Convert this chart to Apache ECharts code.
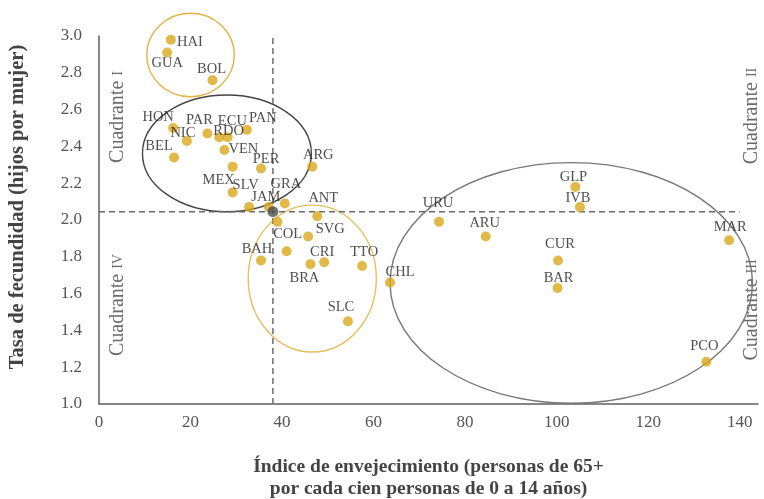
<!DOCTYPE html>
<html><head><meta charset="utf-8">
<script src="https://cdn.jsdelivr.net/npm/echarts/dist/echarts.min.js"></script>
<style>html,body{margin:0;padding:0;background:#fff}#c{width:764px;height:499px}</style>
</head><body><div id="c"></div>
<script>
// ---- data ----
const countries = ['HAI','GUA','BOL','HON','NIC','PAR','ECU','RDO','PAN','BEL','VEN','MEX','PER','ARG','SLV','','JAM','GRA','ANT','','SVG','COL','BAH','BRA','CRI','TTO','CHL','SLC','GLP','IVB','URU','ARU','CUR','BAR','MAR','PCO'];
const agingIndex = [15.7,14.9,24.8,16.2,19.2,23.7,26.3,28.1,32.3,16.4,27.4,29.2,35.4,46.6,29.2,32.8,37.1,40.6,47.7,39.0,45.7,41.0,35.4,46.2,49.2,57.5,63.6,54.4,104.1,105.1,74.3,84.5,100.3,100.2,137.7,132.7];
const fertility  = [2.98,2.91,2.76,2.50,2.43,2.47,2.45,2.45,2.49,2.34,2.38,2.29,2.28,2.29,2.15,2.07,2.07,2.09,2.02,1.99,1.91,1.83,1.78,1.76,1.77,1.75,1.66,1.45,2.18,2.07,1.99,1.91,1.78,1.63,1.89,1.23];
const meanPoint = [38, 2.045];
const xTicks = [0, 20, 40, 60, 80, 100, 120, 140];
const yTicks = [1.0, 1.2, 1.4, 1.6, 1.8, 2.0, 2.2, 2.4, 2.6, 2.8, 3.0];
// group ellipses (data units)
const groupCenterX = [20, 27.95, 46.6, 103.2];
const groupCenterY = [2.897, 2.362, 1.682, 1.658];
const groupRadiusX = [9.57, 18.45, 14.0, 39.6];
const groupRadiusY = [0.227, 0.317, 0.399, 0.654];

// ---- styling (not data) ----
const labelOffsets = [[19,3],[0,11],[-1,-11],[-15,-11],[-4,-8],[-8,-13],[13,-16],[1,-6],[16,-12],[-15,-11],[19,-1],[-14,14],[5,-9],[6,-11],[13,-7],[0,0],[-3,-10],[1,-19],[6,-18],[0,0],[22,-7],[1,-17],[-4,-11],[-6,14],[-2,-10],[2,-14],[10,-10],[-7,-14],[-2,-10],[-2,-9],[-1,-19],[-1,-13],[2,-16],[1,-10],[1,-13],[-2,-15]];
const groupColors = ['#E2B445','#444444','#E6BE60','#777777'];
const SERIF = '"Liberation Serif", "DejaVu Serif", serif';
const GOLD = '#D8A71C';

const chart = echarts.init(document.getElementById('c'));

const pointData = countries.map((n, i) => ({
  name: n,
  value: [agingIndex[i], fertility[i]],
  label: { offset: labelOffsets[i] }
}));
const ellipseData = groupCenterX.map((cx, i) => [cx, groupCenterY[i], groupRadiusX[i], groupRadiusY[i]]);

const quad = (txt, num, x, y) => ({
  type: 'text', x: x, y: y, rotation: Math.PI / 2, silent: true,
  style: {
    text: '{a|' + txt + ' }{b|' + num + '}',
    align: 'center', verticalAlign: 'middle',
    rich: {
      a: { fontFamily: SERIF, fontSize: 20, fill: '#6b6b6b' },
      b: { fontFamily: SERIF, fontSize: 14, fill: '#6b6b6b' }
    }
  }
});

chart.setOption({
  animation: false,
  backgroundColor: '#fff',
  grid: { left: 99, right: 6, top: 36, bottom: 95, containLabel: false, outerBoundsMode: 'none' },
  xAxis: {
    type: 'value', min: xTicks[0], max: 144, interval: 20,
    name: 'Índice de envejecimiento (personas de 65+\npor cada cien personas de 0 a 14 años)',
    nameLocation: 'middle', nameGap: 52,
    nameTextStyle: { fontFamily: SERIF, fontSize: 19.5, fontWeight: 'bold', color: '#444', lineHeight: 22 },
    axisLine: { show: true, lineStyle: { color: '#5f5f5f', width: 1.5 } },
    axisTick: { show: false },
    splitLine: { show: false },
    axisLabel: { showMaxLabel: false, fontFamily: SERIF, fontSize: 17, color: '#555', margin: 10,
      formatter: v => xTicks.includes(v) ? String(v) : '' }
  },
  yAxis: {
    type: 'value', min: yTicks[0], max: yTicks[yTicks.length - 1], interval: 0.2,
    name: 'Tasa de fecundidad (hijos por mujer)',
    nameLocation: 'middle', nameGap: 71,
    nameTextStyle: { fontFamily: SERIF, fontSize: 20.5, fontWeight: 'bold', color: '#444', padding: [0, 0, 0, 26] },
    axisLine: { show: true, lineStyle: { color: '#5f5f5f', width: 1.5 } },
    axisTick: { show: false },
    splitLine: { show: false },
    axisLabel: { fontFamily: SERIF, fontSize: 17, color: '#555', margin: 17, formatter: v => v.toFixed(1) }
  },
  series: [
    {
      type: 'custom', clip: false, silent: true, z: 1,
      data: ellipseData,
      renderItem: (params, api) => {
        const c = api.coord([api.value(0), api.value(1)]);
        const s = api.size([api.value(2), api.value(3)]);
        return { type: 'ellipse', shape: { cx: c[0], cy: c[1], rx: s[0], ry: s[1] },
          style: { fill: 'none', stroke: groupColors[params.dataIndex], lineWidth: 1.4 } };
      }
    },
    {
      type: 'line', symbol: 'none', silent: true, z: 2,
      data: [[meanPoint[0], yTicks[0]], [meanPoint[0], yTicks[yTicks.length - 1]]],
      lineStyle: { type: [6, 4], color: '#6a6a6a', width: 1.5 }
    },
    {
      type: 'line', symbol: 'none', silent: true, z: 2,
      data: [[xTicks[0], meanPoint[1]], [xTicks[xTicks.length - 1], meanPoint[1]]],
      lineStyle: { type: [6, 4], color: '#6a6a6a', width: 1.5 }
    },
    {
      type: 'scatter', z: 3, symbolSize: 10,
      itemStyle: { color: GOLD },
      data: pointData,
      label: { show: true, position: 'inside', formatter: p => p.name,
        fontFamily: SERIF, fontSize: 14.5, color: '#222' }
    },
    {
      type: 'scatter', z: 4, symbolSize: 11,
      itemStyle: { color: '#4d4d4d' },
      data: [meanPoint]
    }
  ],
  graphic: [
    quad('Cuadrante', 'I', 118, 117),
    quad('Cuadrante', 'IV', 118, 305),
    quad('Cuadrante', 'II', 752, 116),
    quad('Cuadrante', 'III', 752, 310)
  ]
});
</script>
</body></html>
